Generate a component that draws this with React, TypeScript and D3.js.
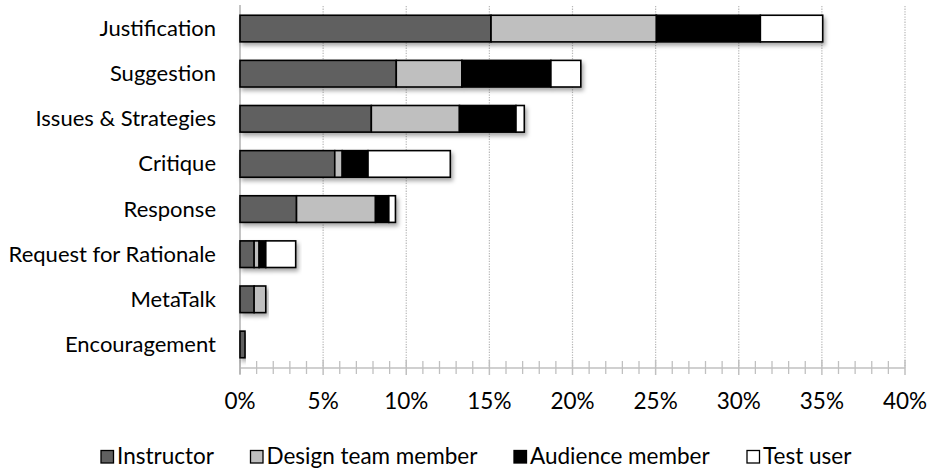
import React from "react";
import * as d3 from "d3";

const categories = [
  "Justification",
  "Suggestion",
  "Issues & Strategies",
  "Critique",
  "Response",
  "Request for Rationale",
  "MetaTalk",
  "Encouragement",
];
const seriesNames = ["Instructor", "Design team member", "Audience member", "Test user"];
const instructor = [15.1, 9.4, 7.9, 5.7, 3.4, 0.85, 0.85, 0.3];
const designTeam = [9.95, 3.95, 5.3, 0.45, 4.75, 0.3, 0.7, 0];
const audience = [6.25, 5.35, 3.4, 1.55, 0.8, 0.4, 0, 0];
const testUser = [3.75, 1.8, 0.5, 4.95, 0.4, 1.8, 0, 0];
const majorTicks = [0, 5, 10, 15, 20, 25, 30, 35, 40];

const colors = ["#606060", "#bfbfbf", "#000000", "#ffffff"];
const FONT = "Lato, 'Noto Sans', sans-serif";

export default function App() {
  const W = 935;
  const H = 470;
  const x = d3.scaleLinear().domain([0, 40]).range([240, 905]);
  const y = d3
    .scaleBand<string>()
    .domain(categories)
    .range([6, 367])
    .paddingInner(0.41)
    .paddingOuter(0.205);
  const axisY = 368;

  const rows = categories.map((c, i) => ({
    cat: c,
    Instructor: instructor[i],
    "Design team member": designTeam[i],
    "Audience member": audience[i],
    "Test user": testUser[i],
  }));
  const stack = d3.stack<any>().keys(seriesNames)(rows);

  const minorTicks = d3.range(0, 41, 1).filter((v) => v % 5 !== 0);

  const legendX = [101, 250.5, 514, 747];

  return (
    <svg width={W} height={H} style={{ position: "absolute", left: 0, top: 0 }}>
      <defs>
        <filter id="shadow" x="-5%" y="-30%" width="115%" height="180%">
          <feDropShadow dx="2" dy="3" stdDeviation="2" floodColor="#000" floodOpacity="0.35" />
        </filter>
      </defs>
      <rect width={W} height={H} fill="#fff" />
      {/* gridlines */}
      {majorTicks
        .filter((t) => t > 0)
        .map((t) => (
          <line
            key={"g" + t}
            x1={x(t)}
            x2={x(t)}
            y1={6}
            y2={axisY}
            stroke="#b8b8b8"
            strokeWidth={1.2}
            strokeDasharray="1.3,1.3"
          />
        ))}
      {/* x axis */}
      <line x1={x(0)} x2={x(40)} y1={axisY} y2={axisY} stroke="#c0c0c0" strokeWidth={1.5} />
      {minorTicks.map((t) => (
        <line key={"m" + t} x1={x(t)} x2={x(t)} y1={axisY - 7} y2={axisY + 6} stroke="#c0c0c0" strokeWidth={1.3} />
      ))}
      {majorTicks.map((t) => (
        <line key={"M" + t} x1={x(t)} x2={x(t)} y1={axisY - 8} y2={axisY + 7} stroke="#c0c0c0" strokeWidth={1.5} />
      ))}
      {/* y axis */}
      <line x1={x(0)} x2={x(0)} y1={5} y2={axisY + 6} stroke="#b0b0b0" strokeWidth={1.5} />
      {/* bars */}
      {categories.map((c, i) => {
        const y0 = y(c)!;
        const bh = y.bandwidth();
        return (
          <g key={c} filter="url(#shadow)">
            {stack.map((s, si) => {
              const d = s[i];
              const w = x(d[1]) - x(d[0]);
              if (w <= 0) return null;
              return (
                <rect
                  key={si}
                  x={x(d[0])}
                  y={y0}
                  width={w}
                  height={bh}
                  fill={colors[si]}
                  stroke="#000"
                  strokeWidth={1.6}
                />
              );
            })}
          </g>
        );
      })}
      {/* category labels */}
      {categories.map((c) => (
        <text
          key={"l" + c}
          x={216}
          y={y(c)! + y.bandwidth() / 2 + 7.5}
          textAnchor="end"
          fontFamily={FONT}
          fontSize={22}
          fill="#000"
        >
          {c}
        </text>
      ))}
      {/* tick labels */}
      {majorTicks.map((t) => (
        <text
          key={"t" + t}
          x={x(t)}
          y={409}
          textAnchor="middle"
          fontFamily={FONT}
          fontSize={22.5}
          fill="#000"
        >
          {t + "%"}
        </text>
      ))}
      {/* legend */}
      {seriesNames.map((n, i) => (
        <g key={"lg" + n}>
          <rect x={legendX[i]} y={450.5} width={12.5} height={12.5} fill={colors[i]} stroke="#000" strokeWidth={1.3} />
          <text x={legendX[i] + 16} y={464} fontFamily={FONT} fontSize={22.5} fill="#000">
            {n}
          </text>
        </g>
      ))}
    </svg>
  );
}
